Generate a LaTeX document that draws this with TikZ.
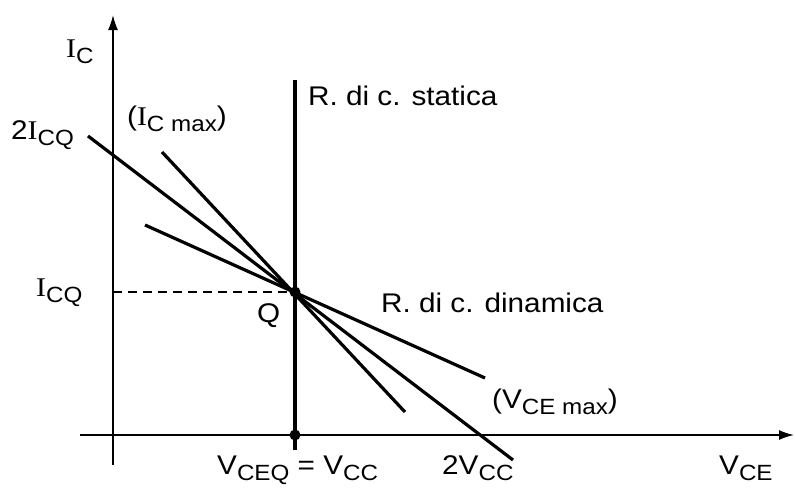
\documentclass[tikz,border=0pt]{standalone}
\usepackage{fontspec}
\setmainfont{Liberation Sans}[FakeStretch=1.1]
\newfontfamily\serifI{Liberation Serif}[FakeStretch=1.1]
\usetikzlibrary{arrows.meta}
\newcommand{\sbs}[1]{\raisebox{-6pt}{\fontsize{22}{22}\selectfont #1}}
\newcommand{\Ii}{{\serifI I}}
\begin{document}
\begin{tikzpicture}[x=1pt,y=-1pt,
  axis/.style={line width=1.6pt,-{Latex[length=15pt,width=10pt]}},
  load/.style={line width=3.2pt},
  lbl/.style={anchor=base west,inner sep=0pt,font=\fontsize{27}{30}\selectfont},
  dot/.style={circle,fill=black,inner sep=0pt,minimum size=11pt}]
\useasboundingbox (0,0) rectangle (795,490);
% coordinates
\coordinate (ya) at (113,465);
\coordinate (yb) at (113,15);
\coordinate (xa) at (80,435);
\coordinate (xb) at (794,435);
\coordinate (st1) at (295,80);
\coordinate (st2) at (295,450);
\coordinate (l1a) at (88,136);
\coordinate (l1b) at (513,460);
\coordinate (l2a) at (162,152);
\coordinate (l2b) at (405,412);
\coordinate (l3a) at (145,225);
\coordinate (l3b) at (485,378);
\coordinate (icq) at (113,292);
% axes
\draw[axis] (ya) -- (yb);
\draw[axis] (xa) -- (xb);
% lines
\draw[load] (st1) -- (st2);
\draw[load] (l1a) -- (l1b);
\draw[load] (l2a) -- (l2b);
\draw[load] (l3a) -- (l3b);
\node[dot] (Q) at (295,292) {};
\node[dot] (V) at (295,435) {};
\draw[line width=1.2pt,dash pattern=on 9pt off 6pt] (icq) -- (Q.center);
% labels
\node[lbl] (tIc) at (66,57) {\Ii\sbs{C}};
\node[lbl] (t2Icq) at (11,139) {2\Ii\sbs{CQ}};
\node[lbl] (tIcmax) at (127,125) {(\Ii\sbs{C max})};
\node[lbl] (tstat) at (308,105) {R. di c. statica};
\node[lbl] (tIcq) at (36,296) {\Ii\sbs{CQ}};
\node[lbl] (tQ) at (257,322) {Q};
\node[lbl] (tdin) at (381,312) {R. di c. dinamica};
\node[lbl] (tVcemax) at (492,408) {(V\sbs{CE max})};
\node[lbl] (tVceq) at (217,474) {V\sbs{CEQ} = V\sbs{CC}};
\node[lbl] (t2Vcc) at (442,474) {2V\sbs{CC}};
\node[lbl] (tVce) at (719,474) {V\sbs{CE}};
\end{tikzpicture}
\end{document}
